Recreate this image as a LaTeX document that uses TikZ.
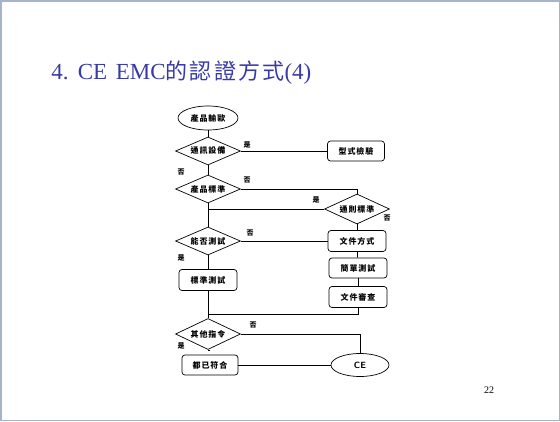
\documentclass[tikz,border=0pt]{standalone}
\usepackage{fontspec}
\setmainfont{Liberation Serif}
\newfontfamily\cjk{Noto Sans CJK TC}
\newfontfamily\cjkbox{Noto Sans CJK TC}[LetterSpace=12]
\newfontfamily\cjktitle{Noto Sans CJK TC}[LetterSpace=10]
\usetikzlibrary{shapes.geometric}
\usepackage{xcolor}
\definecolor{titleblue}{RGB}{56, 58, 165}
\definecolor{framegray}{RGB}{165, 180, 205}

\begin{document}
\begin{tikzpicture}[x=1pt, y=-1pt, line width=0.7pt,
    box/.style={draw, rounded corners=3pt, minimum width=58pt, minimum height=21pt, inner sep=0pt, font=\cjkbox\bfseries\fontsize{8}{9}\selectfont},
    ask/.style={draw, diamond, aspect=2.3, minimum width=65pt, minimum height=28pt, inner sep=0pt, font=\cjkbox\bfseries\fontsize{8}{9}\selectfont},
    oval/.style={draw, ellipse, minimum width=60pt, minimum height=24pt, inner sep=0pt},
    yn/.style={font=\cjk\bfseries\fontsize{7}{8}\selectfont, inner sep=0pt}]
        % 外枠
        \useasboundingbox (0,0) rectangle (560,421);
        \draw[framegray, line width=1.5pt] (0.75,0.75) rectangle (559.25,420.25);
        % 標題
        \node[anchor=base west, text=titleblue, font=\fontsize{23}{28}\selectfont, inner sep=0pt] (title) at (51,79) {4.\hspace{0.4em}CE\hspace{0.38em}EMC{\cjktitle\fontsize{22}{24}\selectfont 的認證方式}(4)};
        \node[font=\fontsize{10}{12}\selectfont, inner sep=0pt] (page) at (489,390) {22};
        % 左側の流れ
        \node[oval, font=\cjkbox\bfseries\fontsize{8}{9}\selectfont] (start) at (208,118) {產品輸歐};
        \node[ask] (q1) at (208,151) {通訊設備};
        \node[ask] (q2) at (208,189) {產品標準};
        \node[ask] (q4) at (208,241) {能否測試};
        \node[box] (std) at (208,280) {標準測試};
        \node[ask, minimum height=31pt] (q5) at (208,334) {其他指令};
        \node[box, minimum width=56pt, minimum height=20pt] (ok) at (210,365) {都已符合};
        % 右側の流れ
        \node[box, minimum width=57pt, minimum height=20pt] (typ) at (356,151) {型式檢驗};
        \node[ask, minimum height=30pt] (q3) at (357,209) {通則標準};
        \node[box] (doc) at (357,241) {文件方式};
        \node[box, minimum height=20pt] (simp) at (358,268) {簡單測試};
        \node[box] (rev) at (358,297) {文件審查};
        \node[oval, minimum width=58pt, minimum height=23pt, font=\sffamily\bfseries\fontsize{9}{10}\selectfont] (ce) at (360,365) {CE};
        \coordinate (j1) at (208,314);
        % 連結線
        \draw (start) -- (q1);
        \draw (q1.east) -- (typ.west);
        \draw (q1.south) -- (q2.north);
        \draw (q2.east) -| (q3.north);
        \draw (q2.south) -- (q4.north);
        \draw (q2.south |- q3.west) -- (q3.west);
        \draw (q3.south) -- (doc.north);
        \draw (q4.east) -- (doc.west);
        \draw (q4.south) -- (std.north);
        \draw (doc) -- (simp);
        \draw (simp) -- (rev);
        \draw (std.south) -- (q5.north);
        \draw (rev.south) |- (j1);
        \draw (q5.east) -| (ce.north);
        \draw (q5.south) -- (ok.north |- q5.south);
        \draw (ok.east) -- (ce.west);
        % 是・否
        \node[yn] (y1) at (247,145) {是};
        \node[yn] (n1) at (181,172) {否};
        \node[yn] (n2) at (247,180) {否};
        \node[yn] (y2) at (316,200) {是};
        \node[yn] (n3) at (387,218) {否};
        \node[yn] (n4) at (250,233) {否};
        \node[yn] (y3) at (181,258) {是};
        \node[yn] (n5) at (253,325) {否};
        \node[yn] (y4) at (181,346) {是};
    \end{tikzpicture}
\end{document}
